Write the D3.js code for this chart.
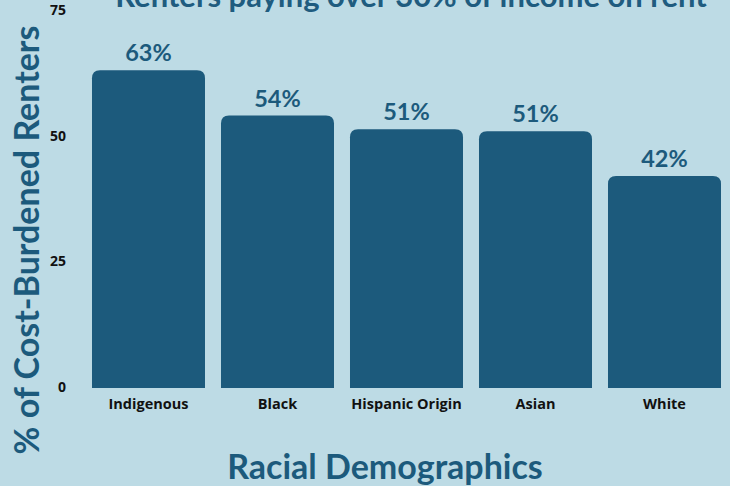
<!DOCTYPE html>
<html>
<head>
<meta charset="utf-8">
<script src="https://cdn.jsdelivr.net/npm/d3@7"></script>
<style>
  body { margin: 0; background: #bddbe5; }
  svg { display: block; }
</style>
</head>
<body>
<div id="chart"></div>
<script>
// data
const categories = ["Indigenous", "Black", "Hispanic Origin", "Asian", "White"];
const values = [63, 54, 51.3, 50.9, 42];
const labels = ["63%", "54%", "51%", "51%", "42%"];
const yTicks = [0, 25, 50, 75];

const W = 730, H = 486;
const margin = {top: 10, right: 1, bottom: 99, left: 84};
const width = W - margin.left - margin.right,
    height = H - margin.top - margin.bottom;

const barColor = "#1c5a7c";

const svg = d3.select("#chart")
  .append("svg")
    .attr("width", W)
    .attr("height", H);

svg.append("rect")
  .attr("width", W).attr("height", H)
  .attr("fill", "#bddbe5");

const g = svg.append("g")
  .attr("transform", `translate(${margin.left}, ${margin.top})`);

const x = d3.scaleBand()
  .domain(categories)
  .range([0, width])
  .paddingInner(0.124)
  .paddingOuter(0.062);

const y = d3.scaleLinear()
  .domain([0, 75])
  .range([height, 0]);

// top-rounded bars
const r = 8;
function barPath(d, i) {
  const x0 = x(categories[i]), w = x.bandwidth();
  const y0 = y(d), y1 = y(0) + 1;
  return `M${x0},${y1} L${x0},${y0 + r} Q${x0},${y0} ${x0 + r},${y0}
    L${x0 + w - r},${y0} Q${x0 + w},${y0} ${x0 + w},${y0 + r} L${x0 + w},${y1} Z`;
}

g.append("g")
  .selectAll("path")
  .data(values)
  .enter()
  .append("path")
    .attr("d", barPath)
    .attr("fill", barColor);

// value labels
g.append("g")
  .selectAll("text")
  .data(values)
  .enter()
  .append("text")
    .attr("x", (d, i) => x(categories[i]) + x.bandwidth() / 2)
    .attr("y", d => y(d) - 9)
    .attr("text-anchor", "middle")
    .attr("font-family", "Lato, 'Open Sans', sans-serif")
    .attr("font-weight", 700)
    .attr("font-size", 23.5)
    .attr("fill", barColor)
    .text((d, i) => labels[i]);

// y axis
const yAxis = g.append("g")
  .call(d3.axisLeft(y).tickValues(yTicks).tickSize(0).tickPadding(18));
yAxis.select(".domain").remove();
yAxis.selectAll("text")
  .attr("font-family", "'Open Sans', sans-serif")
  .attr("font-weight", 700)
  .attr("font-size", 14)
  .attr("fill", "#111");

// x axis
const xAxis = g.append("g")
  .attr("transform", `translate(0, ${height})`)
  .call(d3.axisBottom(x).tickSize(0).tickPadding(12));
xAxis.select(".domain").remove();
xAxis.selectAll("text")
  .attr("font-family", "'Open Sans', sans-serif")
  .attr("font-weight", 700)
  .attr("font-size", 14.5)
  .attr("fill", "#111");

// titles
svg.append("text")
  .attr("x", 411)
  .attr("y", 7)
  .attr("text-anchor", "middle")
  .attr("font-family", "Lato, sans-serif")
  .attr("font-weight", 700)
  .attr("font-size", 31)
  .attr("fill", "#1f5c7f")
  .text("Renters paying over 30% of income on rent");

svg.append("text")
  .attr("x", 385)
  .attr("y", 479)
  .attr("text-anchor", "middle")
  .attr("font-family", "Lato, sans-serif")
  .attr("font-weight", 700)
  .attr("font-size", 34)
  .attr("fill", "#1c5a7c")
  .text("Racial Demographics");

svg.append("text")
  .attr("transform", "translate(39, 240) rotate(-90)")
  .attr("text-anchor", "middle")
  .attr("font-family", "Lato, sans-serif")
  .attr("font-weight", 700)
  .attr("font-size", 34)
  .attr("fill", "#1c5a7c")
  .text("% of Cost-Burdened Renters");
</script>
</body>
</html>
